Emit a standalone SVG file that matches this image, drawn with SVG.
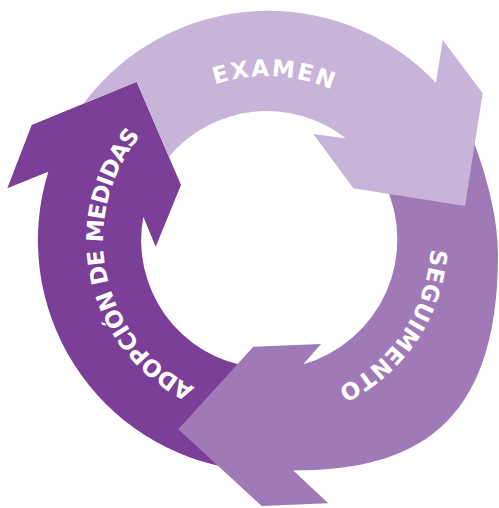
<svg xmlns="http://www.w3.org/2000/svg" width="499" height="508" viewBox="0 0 499 508">
  <defs>
    <style>
      .dark { fill: #7b3f97; }
      .mid { fill: #a07ab7; }
      .light { fill: #c8b4d8; }
      .lbl { font-family: "DejaVu Sans", "Liberation Sans", sans-serif; font-weight: bold; font-size: 23px; fill: #ffffff; }
    </style>
    <!-- clockwise baselines (r 164 around the ring centre) for the curved labels -->
    <path id="arc-examen" d="M 115.7,176.8 A 164 164 0 0 1 423.5,191.1"/>
    <path id="arc-seguimento" d="M 399.4,143.3 A 164 164 0 0 1 227.7,399.2"/>
    <path id="arc-adopcion" d="M 245.0,402.5 A 164 164 0 0 1 179.4,101.4"/>
  </defs>

  <rect width="499" height="508" fill="#ffffff"/>

  <!-- left arrow: tail runs under the bottom arrowhead -->
  <g id="adopcion">
    <path class="dark" d="M 238.8,469.3 A 231 231 0 0 1 48.3,171.7 L 7.3,188.3 L 31.7,125 L 136.7,81.7 L 181,185 L 155.7,246.7 L 143.3,216.7 A 128 128 0 0 0 251.4,367 Z"/>
    <text class="lbl" letter-spacing="-0.7"><textPath href="#arc-adopcion" startOffset="50%" text-anchor="middle">ADOPCIÓN DE MEDIDAS</textPath></text>
  </g>

  <!-- right arrow: tail runs under the top arrowhead -->
  <g id="seguimento">
    <path class="mid" d="M 470,132 C 485,170 498,215 498,255 C 498,427.7 412.9,470.5 293.3,470.5 L 328.3,503.3 L 261.7,506 L 178.3,429.3 L 253.3,346.7 L 321,344 L 303.3,364.3 A 130 130 0 0 0 384,182 Z"/>
    <text class="lbl" letter-spacing="0.4"><textPath href="#arc-seguimento" startOffset="50%" text-anchor="middle">SEGUIMENTO</textPath></text>
  </g>

  <!-- top arrow: tail is cut along the edge of the left arrowhead -->
  <g id="examen">
    <path class="light" d="M 83.3,103.7 A 231 231 0 0 1 436,82.7 L 442.7,40 L 482.7,93.3 L 465,206 L 353.3,188.3 L 313.3,134 L 345.7,138.3 A 128 128 0 0 0 168.9,156.7 L 136.7,81.7 Z"/>
    <text class="lbl" letter-spacing="2"><textPath href="#arc-examen" startOffset="50%" text-anchor="middle">EXAMEN</textPath></text>
  </g>
</svg>
